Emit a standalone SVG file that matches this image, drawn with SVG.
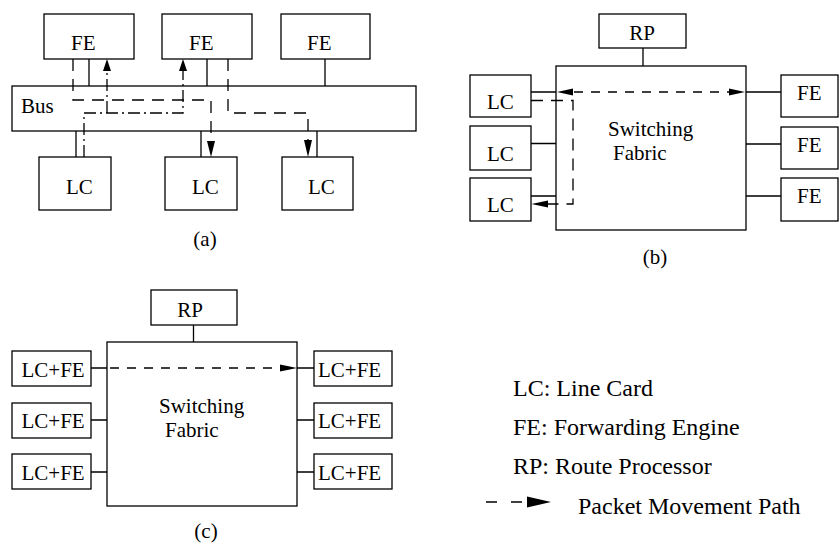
<svg xmlns="http://www.w3.org/2000/svg" width="839" height="544" viewBox="0 0 839 544">
<style>
.box{fill:#fff;stroke:#000;stroke-width:1.3}
.ln{fill:none;stroke:#000;stroke-width:1.3}
.da{fill:none;stroke:#000;stroke-width:1.3;stroke-dasharray:12 8}
.db{fill:none;stroke:#000;stroke-width:1.3;stroke-dasharray:9 8}
.dd{fill:none;stroke:#000;stroke-width:1.3;stroke-dasharray:12 4 2 4}
.ah{fill:#000;stroke:none}
text{font-size:21px;fill:#000}
.lg{font-size:24px}
</style>
<rect width="839" height="544" fill="#fff"/>
<g font-family="'Liberation Serif', 'Times New Roman', 'DejaVu Serif', serif">
<!-- (a) -->
<g id="a-bus"><rect class="box" x="12" y="86" width="404" height="45"/><text x="21" y="113">Bus</text></g>
<g id="a-fe1"><rect class="box" x="44" y="14" width="90" height="45"/><text x="71" y="50">FE</text></g>
<g id="a-fe2"><rect class="box" x="162" y="14" width="90" height="45"/><text x="189" y="50">FE</text></g>
<g id="a-fe3"><rect class="box" x="281" y="14" width="89" height="45"/><text x="307" y="50">FE</text></g>
<g id="a-lc1"><rect class="box" x="39" y="157" width="72" height="53"/><text x="66" y="194">LC</text></g>
<g id="a-lc2"><rect class="box" x="165" y="157" width="72" height="53"/><text x="192" y="194">LC</text></g>
<g id="a-lc3"><rect class="box" x="282" y="157" width="71" height="53"/><text x="308" y="194">LC</text></g>
<g id="a-connectors">
<path class="ln" d="M89,59V86M207,59V86M325,59V86M76,131V157M201,131V157M317,131V157"/>
<path class="da" d="M73,59V100H211V141"/>
<polygon class="ah" points="207,141 215,141 211,157"/>
<path class="dd" d="M84,157V113H183V71M107,113V71"/>
<polygon class="ah" points="179,71 187,71 183,59"/>
<polygon class="ah" points="103,71 111,71 107,59"/>
<path class="da" d="M228,59V113H308V140"/>
<polygon class="ah" points="304,140 312,140 308,157"/>
</g>
<text x="205" y="246" text-anchor="middle">(a)</text>
<!-- (b) -->
<g id="b-rp"><rect class="box" x="599" y="14" width="87" height="34"/><text x="642" y="40" text-anchor="middle">RP</text></g>
<g id="b-fabric"><rect class="box" x="556" y="66" width="190" height="164"/><text x="608" y="136">Switching</text><text x="613" y="160">Fabric</text></g>
<g id="b-lc1"><rect class="box" x="470" y="75" width="61" height="42"/><text x="487" y="109">LC</text></g>
<g id="b-lc2"><rect class="box" x="470" y="126" width="61" height="44"/><text x="487" y="161">LC</text></g>
<g id="b-lc3"><rect class="box" x="470" y="178" width="61" height="43"/><text x="487" y="212">LC</text></g>
<g id="b-fe1"><rect class="box" x="781" y="75" width="57" height="42"/><text x="797" y="100">FE</text></g>
<g id="b-fe2"><rect class="box" x="781" y="127" width="57" height="42"/><text x="797" y="152">FE</text></g>
<g id="b-fe3"><rect class="box" x="781" y="178" width="57" height="43"/><text x="797" y="203">FE</text></g>
<g id="b-connectors">
<path class="ln" d="M643,48V66M531,92H556M531,143.5H556M531,196H556M746,92H781M746,144H781M746,196H781"/>
<path class="db" d="M574,92H729"/>
<polygon class="ah" points="573,88.5 573,95.5 557,92"/>
<polygon class="ah" points="729,88.5 729,95.5 745,92"/>
<path class="da" d="M531,100.5H573V204H548"/>
<polygon class="ah" points="548,200.5 548,207.5 531.5,204"/>
</g>
<text x="655" y="264" text-anchor="middle">(b)</text>
<!-- (c) -->
<g id="c-rp"><rect class="box" x="151" y="290" width="86" height="35"/><text x="190" y="317" text-anchor="middle">RP</text></g>
<g id="c-fabric"><rect class="box" x="107" y="342" width="190" height="164"/><text x="159" y="413">Switching</text><text x="165" y="437">Fabric</text></g>
<g id="c-l1"><rect class="box" x="12" y="351" width="79" height="35"/><text x="21.5" y="377">LC+FE</text></g>
<g id="c-l2"><rect class="box" x="12" y="403" width="79" height="35"/><text x="21.5" y="428">LC+FE</text></g>
<g id="c-l3"><rect class="box" x="12" y="454" width="79" height="35"/><text x="21.5" y="480">LC+FE</text></g>
<g id="c-r1"><rect class="box" x="314" y="351" width="78" height="35"/><text x="318" y="377">LC+FE</text></g>
<g id="c-r2"><rect class="box" x="314" y="403" width="78" height="35"/><text x="318" y="428">LC+FE</text></g>
<g id="c-r3"><rect class="box" x="314" y="454" width="78" height="35"/><text x="318" y="480">LC+FE</text></g>
<g id="c-connectors">
<path class="ln" d="M193.5,325V342M91,368H107M91,420H107M91,472H107M297,368H314M297,420H314M297,472H314"/>
<path class="db" d="M110,368H280"/>
<polygon class="ah" points="280,364.5 280,371.5 297,368"/>
</g>
<text x="206" y="538" text-anchor="middle">(c)</text>
<!-- legend -->
<g id="legend">
<text class="lg" x="513" y="396">LC: Line Card</text>
<text class="lg" x="513" y="435">FE: Forwarding Engine</text>
<text class="lg" x="513" y="474">RP: Route Processor</text>
<path class="ln" d="M486,502H497M511,502H522"/>
<polygon class="ah" points="527,496.5 527,507.5 551,502"/>
<text class="lg" x="578" y="514">Packet Movement Path</text>
</g>
</g>
</svg>
